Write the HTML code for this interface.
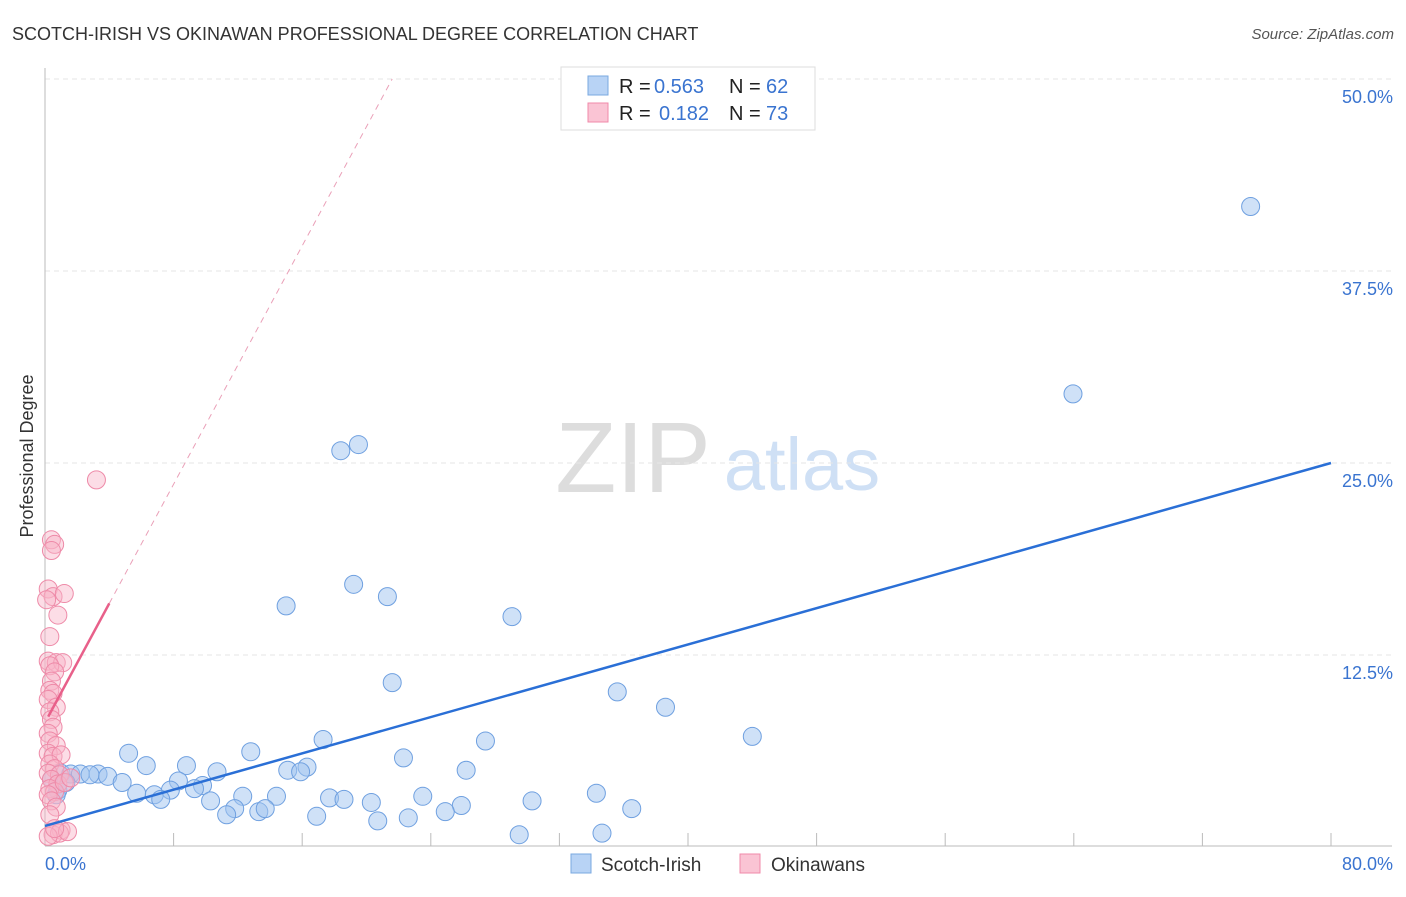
<!DOCTYPE html>
<html><head><meta charset="utf-8"><style>
body{margin:0;background:#fff;font-family:"Liberation Sans",sans-serif}
svg text{font-family:"Liberation Sans",sans-serif}
</style></head><body>
<svg id="chart" width="1406" height="892">
<text x="12" y="40" font-size="18" fill="#333">SCOTCH-IRISH VS OKINAWAN PROFESSIONAL DEGREE CORRELATION CHART</text>
<text x="1394" y="39" font-size="15" fill="#555" font-style="italic" text-anchor="end">Source: ZipAtlas.com</text>
<text x="33" y="456" font-size="18" fill="#333" transform="rotate(-90 33 456)" text-anchor="middle">Professional Degree</text>
<g id="wm"><text x="633" y="492" font-size="100" fill="#ddd" font-family="Liberation Serif" text-anchor="middle">ZIP</text><text x="802" y="490" font-size="74" fill="#cfe0f5" text-anchor="middle">atlas</text></g>
<g id="grid"></g><g id="axes"></g><g id="marks"></g>
<g>
<rect x="561" y="67" width="254" height="63" fill="#fff" stroke="#ddd"/>
<rect x="588" y="76" width="20" height="19" fill="#b8d3f5" stroke="#7aa8e0"/>
<rect x="588" y="103" width="20" height="19" fill="#fac4d4" stroke="#f08aaa"/>
<text x="619" y="93" font-size="20" fill="#222">R =</text><text x="654" y="93" font-size="20" fill="#3a74d0">0.563</text>
<text x="729" y="93" font-size="20" fill="#222">N =</text><text x="766" y="93" font-size="20" fill="#3a74d0">62</text>
<text x="619" y="120" font-size="20" fill="#222">R =</text><text x="659" y="120" font-size="20" fill="#3a74d0">0.182</text>
<text x="729" y="120" font-size="20" fill="#222">N =</text><text x="766" y="120" font-size="20" fill="#3a74d0">73</text>
</g>
<g>
<rect x="571" y="854" width="20" height="19" fill="#b8d3f5" stroke="#7aa8e0"/>
<text x="601" y="871" font-size="19" fill="#333">Scotch-Irish</text>
<rect x="740" y="854" width="20" height="19" fill="#fac4d4" stroke="#f08aaa"/>
<text x="771" y="871" font-size="19" fill="#333">Okinawans</text>
</g>
</svg>
<script>
const yTicks=[12.5,25,37.5,50];
const yTickLabels=["12.5%","25.0%","37.5%","50.0%"];
const xTicks=[0,8,16,24,32,40,48,56,64,72,80];
const blueX=[75.0,63.95,18.4,19.5,15.0,19.2,21.3,29.05,21.6,35.6,38.6,44.0,5.2,6.3,8.8,12.8,17.3,27.4,22.3,15.1,16.3,15.9,10.7,26.2,1.0,1.6,2.2,3.3,2.8,3.9,4.8,8.3,9.8,9.3,5.7,6.8,7.8,7.2,0.8,0.7,10.3,12.3,14.4,17.7,18.6,20.3,23.5,34.3,30.3,25.9,24.9,11.8,11.3,13.3,13.7,16.9,20.7,22.6,36.5,29.5,34.65,0.4,1.3];
const blueY=[41.7,29.5,25.8,26.2,15.7,17.1,16.3,15.0,10.7,10.1,9.1,7.2,6.1,5.3,5.3,6.2,7.0,6.9,5.8,5.0,5.2,4.9,4.9,5.0,4.8,4.75,4.75,4.75,4.7,4.6,4.2,4.3,4.0,3.8,3.5,3.4,3.7,3.1,3.7,3.4,3.0,3.3,3.3,3.2,3.1,2.9,3.3,3.5,3.0,2.7,2.3,2.5,2.1,2.3,2.5,2.0,1.7,1.9,2.5,0.8,0.9,4.4,4.2];
const pinkX=[3.2,0.4,0.6,0.4,0.2,0.5,1.2,0.1,0.8,0.3,0.2,0.7,1.1,0.3,0.6,0.4,0.3,0.5,0.2,0.7,0.3,0.4,0.5,0.2,0.3,0.7,0.2,0.5,1.0,0.3,0.6,0.2,0.9,0.4,0.8,0.3,0.6,0.2,0.4,0.7,1.2,1.6,0.3,1.0,0.5,0.9,0.2,1.4,0.6];
const pinkY=[23.9,20.0,19.7,19.3,16.8,16.3,16.5,16.1,15.1,13.7,12.1,12.0,12.0,11.8,11.4,10.8,10.2,10.0,9.6,9.1,8.8,8.3,7.8,7.4,6.9,6.6,6.1,5.9,6.0,5.4,5.1,4.8,4.7,4.4,4.1,3.8,3.6,3.4,3.0,2.6,4.2,4.5,2.1,1.1,0.8,0.9,0.7,1.0,1.2];
const blueFit=[1.37,25.0];
const pinkFit=[8.1,1.94];
const X0=45,X1=1331,Y0=847,PPY=15.36;
const sx=v=>X0+(X1-X0)*v/80, sy=v=>Y0-v*PPY;
const NS="http://www.w3.org/2000/svg";
function mk(tag,attrs,parent){const e=document.createElementNS(NS,tag);for(const k in attrs)e.setAttribute(k,attrs[k]);document.getElementById(parent).appendChild(e);return e;}
yTicks.forEach((t,i)=>{
 const l=mk('line',{x1:X0,x2:1392,y1:sy(t),y2:sy(t),stroke:'#e6e6e6','stroke-dasharray':'5,4'},'grid');
 
 
 const tx=mk('text',{x:1393,y:sy(t)+24,'font-size':18,fill:'#3a74d0','text-anchor':'end'},'axes');
 tx.textContent=yTickLabels[i];
 
 
});
const ax=mk('line',{x1:X0,x2:X0,y1:68,y2:846,stroke:'#bbb'},'axes');


const bx=mk('line',{x1:X0,x2:1392,y1:846,y2:846,stroke:'#bbb'},'axes');


xTicks.forEach(t=>{const l=mk('line',{x1:sx(t),x2:sx(t),y1:833,y2:846,stroke:'#bbb'},'axes');
 
 });
const x0l=mk('text',{x:45,y:870,'font-size':18,fill:'#3a74d0'},'axes');x0l.textContent='0.0%';


const x1l=mk('text',{x:1393,y:870,'font-size':18,fill:'#3a74d0','text-anchor':'end'},'axes');x1l.textContent='80.0%';


blueX.forEach((x,i)=>{const c=mk('circle',{cx:sx(x),cy:sy(blueY[i]),r:9,fill:'rgba(160,196,240,0.5)',stroke:'#6fa0e0','stroke-width':1},'marks');
 
 });
pinkX.forEach((x,i)=>{const c=mk('circle',{cx:sx(x),cy:sy(pinkY[i]),r:9,fill:'rgba(248,180,200,0.45)',stroke:'#ee8aa8','stroke-width':1},'marks');
 
 });
const bl=mk('line',{x1:sx(0),y1:sy(blueFit[0]),x2:sx(80),y2:sy(blueFit[1]),stroke:'#2a6fd6','stroke-width':2.5},'marks');


const pe=(50-pinkFit[0])/pinkFit[1];
const pd=mk('line',{x1:sx(4),y1:sy(pinkFit[0]+4*pinkFit[1]),x2:sx(pe),y2:sy(50),stroke:'#eaa0b8','stroke-width':1,'stroke-dasharray':'6,5'},'marks');


const ps=mk('line',{x1:sx(0.2),y1:sy(pinkFit[0]+0.2*pinkFit[1]),x2:sx(4),y2:sy(pinkFit[0]+4*pinkFit[1]),stroke:'#e8608a','stroke-width':2.5},'marks');


</script>
</body></html>
